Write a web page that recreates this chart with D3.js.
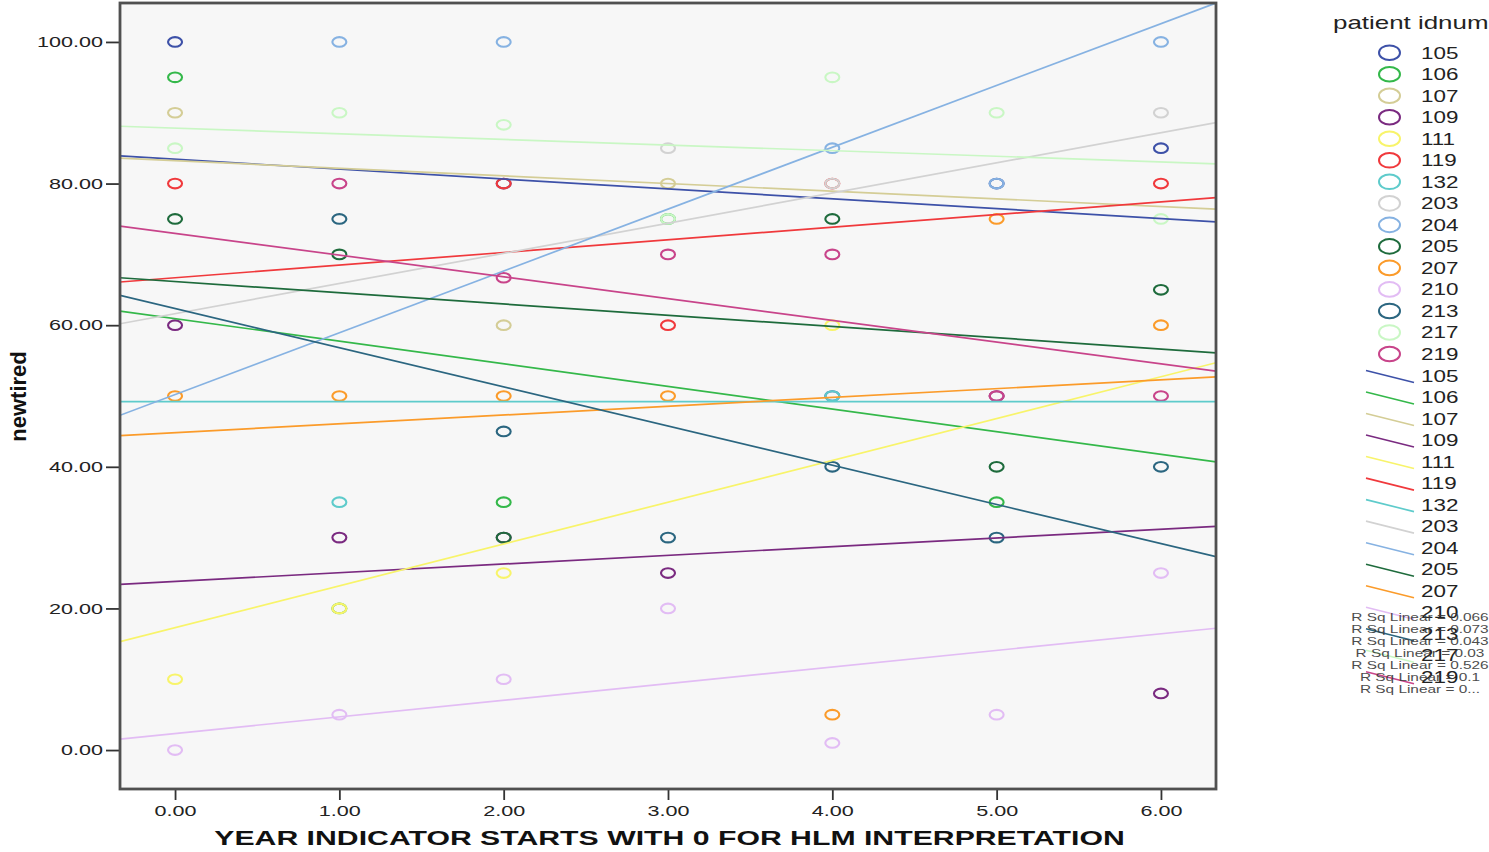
<!DOCTYPE html>
<html><head><meta charset="utf-8">
<script src="https://cdn.jsdelivr.net/npm/d3@7"></script>
<style>body{margin:0;background:#fff} text{font-family:"Liberation Sans",Arial,sans-serif}</style>
</head><body><svg id="c" width="1489" height="852"></svg>
<script>
// ---- data ----
const years = [0, 1, 2, 3, 4, 5, 6];
const patients = ["105","106","107","109","111","119","132","203","204","205","207","210","213","217","219"];
const colors = ["#3d51a8","#34b84a","#d4cd96","#7a2a80","#f8f46a","#f0393c","#5ecbcb","#d2d2d2","#86b2e2","#1e6b3c","#fb9b2a","#e2bcf4","#2b6680","#c9f7c4","#c8448a"];
// newtired per patient, by year 0..6 (null = not visible)
const newtired = [
  [100, null, 80, null, 50, 80, 85],      // 105
  [95, 20, 35, 75, null, 35, null],       // 106
  [90, null, 60, 80, null, null, null],   // 107
  [60, 30, 30, 25, null, 50, 8],          // 109
  [10, 20, 25, null, 60, null, null],     // 111
  [80, null, 80, 60, 80, null, 80],       // 119
  [null, 35, null, null, 50, null, null], // 132
  [null, null, null, 85, 80, null, 90],   // 203
  [null, 100, 100, null, 85, 80, 100],    // 204
  [75, 70, 30, null, 75, 40, 65],         // 205
  [50, 50, 50, 50, 5, 75, 60],            // 207
  [0, 5, 10, 20, 1, 5, 25],               // 210
  [null, 75, 45, 30, 40, 30, 40],         // 213
  [85, 90, 88.3, 75, 95, 90, 75],         // 217
  [null, 80, 66.7, 70, 70, 50, 50]        // 219
];
// linear fit per patient: value = intercept + slope * year
const fitIntercept = [83.43, 60.93, 83.24, 23.81, 17.28, 66.70, 49.2, 61.63, 50.2, 66.17, 44.82, 2.34, 62.35, 87.83, 72.97];
const fitSlope     = [-1.394, -3.193, -1.079, 1.229, 5.907, 1.784, 0, 4.258, 8.73, -1.589, 1.244, 2.346, -5.532, -0.795, -3.073];
const rsqLabels = ["R Sq Linear = 0.066","R Sq Linear = 0.073","R Sq Linear = 0.043","R Sq Linear = 0.03","R Sq Linear = 0.526","R Sq Linear = 0.1","R Sq Linear = 0..."];
const yTicks = [0, 20, 40, 60, 80, 100];
const xTicks = [0, 1, 2, 3, 4, 5, 6];
const xTitle = "YEAR INDICATOR STARTS WITH 0 FOR HLM INTERPRETATION";
const yTitle = "newtired";
const legendTitle = "patient idnum";

// ---- layout ----
const plot = {l:120, t:3, r:1216, b:789};
const SX = 1.44; // horizontal stretch of the original picture
const x = d3.scaleLinear().domain([-0.335, 6.335]).range([plot.l, plot.r]);
const y = d3.scaleLinear().domain([-5.5, 105.5]).range([plot.b, plot.t]);
const svg = d3.select("#c");

svg.append("rect").attr("x",plot.l).attr("y",plot.t).attr("width",plot.r-plot.l).attr("height",plot.b-plot.t).attr("fill","#f7f7f7");
svg.append("clipPath").attr("id","clip").append("rect").attr("x",plot.l).attr("y",plot.t).attr("width",plot.r-plot.l).attr("height",plot.b-plot.t);
const g = svg.append("g").attr("clip-path","url(#clip)");

const pts = [];
patients.forEach((p,i)=>years.forEach((yr,j)=>{const v=newtired[i][j]; if(v!=null) pts.push({i,yr,v});}));
g.selectAll("ellipse.pt").data(pts).join("ellipse").attr("class","pt")
  .attr("cx",d=>x(d.yr)).attr("cy",d=>y(d.v)).attr("rx",7).attr("ry",4.8)
  .attr("fill","none").attr("stroke",d=>colors[d.i]).attr("stroke-width",2.1);

const [d0,d1] = x.domain();
g.selectAll("line.fit").data(patients).join("line").attr("class","fit")
  .attr("x1",x(d0)).attr("x2",x(d1))
  .attr("y1",(d,i)=>y(fitIntercept[i]+fitSlope[i]*d0))
  .attr("y2",(d,i)=>y(fitIntercept[i]+fitSlope[i]*d1))
  .attr("stroke",(d,i)=>colors[i]).attr("stroke-width",1.7);

function stretchAxisText(sel, fs){
  sel.attr("font-family",null).attr("font-size",null);
  sel.selectAll("text").attr("font-size",fs).attr("fill","#222").each(function(){
    const t=d3.select(this); const xx=+t.attr("x")||0;
    t.attr("x",xx/SX).attr("transform",`scale(${SX},1)`);
  });
  sel.select(".domain").remove();
  sel.selectAll(".tick line").attr("stroke","#333").attr("stroke-width",1.8);
}
const ya = svg.append("g").attr("transform",`translate(${plot.l},0)`)
  .call(d3.axisLeft(y).tickValues(yTicks).tickFormat(d3.format(".2f")).tickSize(14).tickPadding(3));
stretchAxisText(ya, 15);
const xa = svg.append("g").attr("transform",`translate(0,${plot.b})`)
  .call(d3.axisBottom(x).tickValues(xTicks).tickFormat(d3.format(".2f")).tickSize(11).tickPadding(5));
stretchAxisText(xa, 15);

svg.append("rect").attr("x",plot.l).attr("y",plot.t).attr("width",plot.r-plot.l).attr("height",plot.b-plot.t)
  .attr("fill","none").attr("stroke","#505050").attr("stroke-width",2.8);

function sText(txt, tx, ty, fs, opts={}){
  return svg.append("text").text(txt)
    .attr("transform",`translate(${tx},${ty}) scale(${opts.sx||SX},1)`)
    .attr("font-size",fs).attr("font-weight",opts.bold?"bold":null)
    .attr("text-anchor",opts.anchor||"start").attr("fill",opts.fill||"#222");
}
sText(xTitle, 669.5, 845, 21, {bold:true, anchor:"middle", fill:"#111"});
svg.append("text").text(yTitle).attr("transform","translate(26,396.5) rotate(-90)")
  .attr("font-size",22).attr("font-weight","bold").attr("text-anchor","middle").attr("fill","#111");

// legend
sText(legendTitle, 1333, 29, 18, {fill:"#222"});
const row = k => 52.7 + k*21.52;
patients.forEach((p,i)=>{
  svg.append("ellipse").attr("cx",1389.5).attr("cy",row(i)).attr("rx",10.5).attr("ry",7.3)
    .attr("fill","none").attr("stroke",colors[i]).attr("stroke-width",2);
  sText(p, 1421, row(i)+6, 16, {sx:1.4});
});
patients.forEach((p,i)=>{
  const r = row(15+i);
  svg.append("line").attr("x1",1366).attr("x2",1414).attr("y1",r-5).attr("y2",r+7)
    .attr("stroke",colors[i]).attr("stroke-width",1.6);
  sText(p, 1421, r+6, 16, {sx:1.4});
});
rsqLabels.forEach((t,k)=>{
  sText(t, 1420, 621+12*k, 11, {anchor:"middle", sx:1.4, fill:"#3a3a3a"}).attr("opacity",0.9);
});
</script></body></html>
